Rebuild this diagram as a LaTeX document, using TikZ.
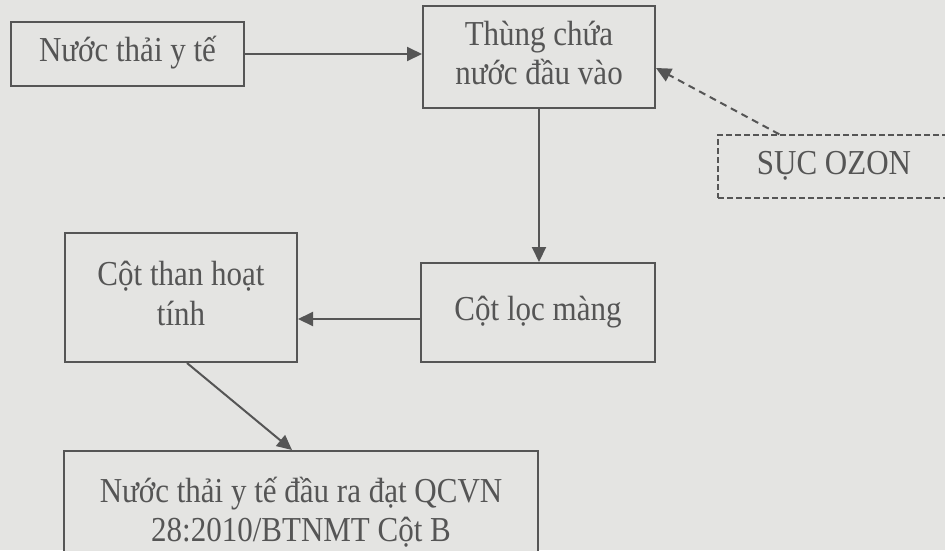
\documentclass[tikz,border=0pt]{standalone}
\usepackage{fontspec}
\setmainfont{Liberation Serif}
\usetikzlibrary{arrows.meta}
\definecolor{bg}{RGB}{228,228,226}
\definecolor{ink}{RGB}{85,85,85}
\newcommand{\boxtxt}[1]{\scalebox{1}[1.13]{\begin{tabular}{@{}c@{}}#1\end{tabular}}}
\begin{document}
\begin{tikzpicture}[x=1pt,y=-1pt,
  every node/.style={font=\fontsize{31}{35}\selectfont, text=ink},
  box/.style={draw=ink, line width=2pt, rectangle, inner sep=0pt, fill=bg},
  arr/.style={draw=ink, line width=2pt, -{Triangle[length=15pt,width=14pt]}},
  darr/.style={draw=ink, line width=2pt, dash pattern=on 7pt off 5pt, -{Triangle[length=15pt,width=14pt]}},
  dbox/.style={draw=ink, line width=1.4pt, dash pattern=on 6pt off 3pt, rectangle, inner sep=0pt}]
\fill[bg] (0,0) rectangle (945,550);
\useasboundingbox (0,0) rectangle (945,550);
\clip (0,0) rectangle (945,550);
\node[box, minimum width=233pt, minimum height=64pt] (n1) at (127.5,54) {\boxtxt{Nước thải y tế}};
\node[box, minimum width=232pt, minimum height=102pt] (n2) at (539,57) {\boxtxt{Thùng chứa\\nước đầu vào}};
\node[dbox, minimum width=232pt, minimum height=63pt] (oz) at (834,166.5) {\boxtxt{SỤC OZON}};
\node[box, minimum width=234pt, minimum height=99pt] (n3) at (538,312.5) {\boxtxt{Cột lọc màng}};
\node[box, minimum width=232pt, minimum height=129pt] (n4) at (181,297.5) {\boxtxt{Cột than hoạt\\tính}};
\node[box, minimum width=474pt, minimum height=126pt] (n5) at (301,514) {\boxtxt{Nước thải y tế đầu ra đạt QCVN\\28:2010/BTNMT Cột B}};
\draw[arr] (n1.east) -- (n1.east -| n2.west);
\draw[arr] (n2.south) -- (n2.south |- n3.north);
\draw[arr] ([yshift=-6.5pt]n3.west) -- ([yshift=-6.5pt]n3.west -| n4.east);
\draw[arr] ([xshift=6pt]n4.south) -- ([xshift=-9pt]n5.north);
\draw[darr] ([xshift=62pt]oz.north west) -- ([yshift=-11pt]n2.east);
\end{tikzpicture}
\end{document}
